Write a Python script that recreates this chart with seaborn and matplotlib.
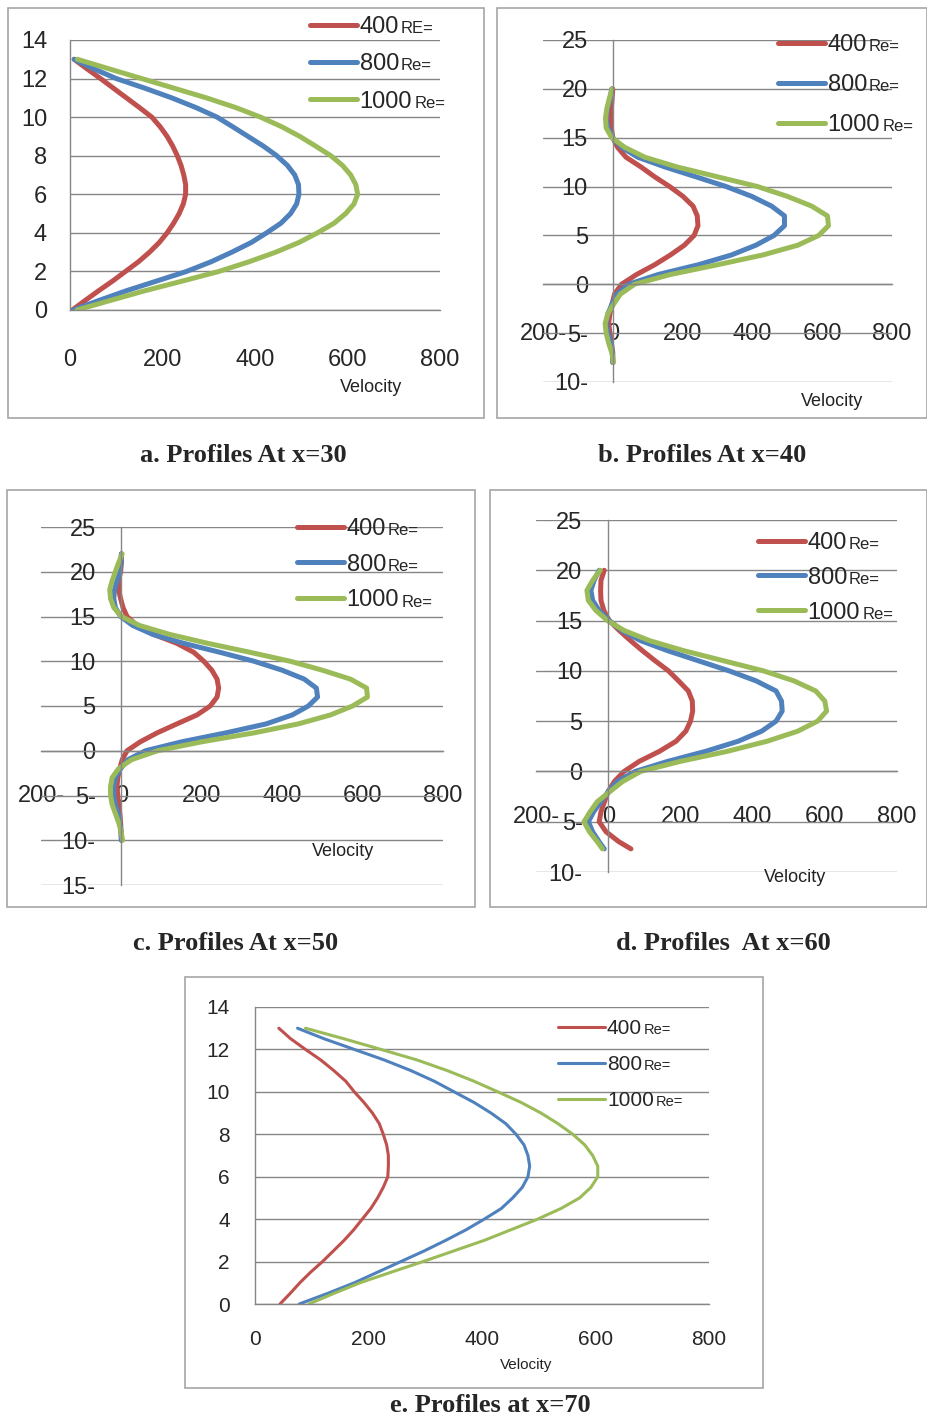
import pandas as pd
import seaborn as sns
import matplotlib.pyplot as plt
from matplotlib.patches import Rectangle

# velocity profiles (velocity at each height y)
Y_A = [i / 2 for i in range(0, 27)]
A_400 = [5, 33, 62, 92, 120, 148, 172, 193, 210, 224, 236, 245, 250, 250, 246, 240, 232,
         222, 210, 195, 177, 150, 122, 94, 66, 37, 9]
A_800 = [7, 63, 122, 187, 252, 305, 350, 392, 425, 456, 477, 490, 495, 494, 486, 470, 447,
         418, 385, 352, 318, 272, 220, 162, 100, 52, 9]
A_1000 = [15, 88, 162, 243, 322, 387, 445, 495, 535, 571, 596, 614, 622, 618, 607, 589, 564,
          531, 497, 458, 412, 358, 295, 225, 155, 85, 16]

Y_B = list(range(-8, 21))
B_400 = [0, 0, -4, -8, -12, -8, -2, 5, 25, 68, 120, 165, 205, 233, 244, 242, 230,
         201, 163, 120, 81, 38, 14, 0, -4, -5, -4, -2, 0]
B_800 = [0, -1, -6, -14, -19, -14, -2, 12, 45, 130, 245, 340, 410, 462, 492, 492, 455,
         398, 325, 238, 150, 72, 26, 0, -14, -19, -15, -8, -3]
B_1000 = [2, -3, -12, -19, -22, -14, 3, 22, 62, 165, 300, 430, 530, 590, 618, 615, 570,
          500, 415, 300, 185, 92, 35, -3, -19, -21, -17, -10, -2]

Y_C = list(range(-10, 23))
C_400 = [0, -1, -2, -4, -7, -9, -11, -9, -4, 2, 14, 47, 89, 138, 188, 221, 238, 242,
         238, 225, 205, 180, 138, 80, 39, 14, 4, -2, -7, -7, -2, 0, 0]
C_800 = [0, -1, -4, -9, -15, -19, -19, -15, -2, 16, 60, 150, 260, 360, 425, 465, 488,
         485, 455, 400, 330, 245, 155, 78, 28, -2, -15, -19, -17, -11, -4, -1, 0]
C_1000 = [3, -1, -7, -15, -23, -27, -27, -23, -7, 25, 90, 200, 330, 440, 520, 575, 612,
          610, 570, 500, 420, 320, 215, 120, 45, 0, -19, -27, -29, -23, -15, -7, 2]

Y_D = [-7.7] + list(range(-7, 21))
D_400 = [63, 30, -6, -25, -20, -10, 0, 17, 44, 86, 142, 188, 215, 228, 234, 233, 222,
         195, 167, 130, 95, 62, 31, 3, -12, -20, -21, -20, -11]
D_800 = [-11, -25, -43, -55, -40, -20, 0, 25, 75, 165, 270, 360, 425, 465, 482, 480,
         465, 410, 335, 250, 165, 90, 38, 3, -25, -43, -48, -39, -25]
D_1000 = [-16, -30, -52, -67, -50, -30, 5, 40, 90, 200, 330, 440, 525, 580, 605, 600,
          575, 515, 430, 320, 210, 115, 45, -2, -34, -55, -59, -43, -22]

Y_E = [i / 2 for i in range(0, 27)]
E_400 = [44, 62, 79, 98, 119, 138, 157, 174, 189, 204, 216, 226, 234, 235, 235, 232, 226,
         219, 207, 192, 175, 160, 139, 116, 89, 63, 42]
E_800 = [78, 128, 175, 216, 257, 298, 336, 372, 404, 434, 454, 471, 481, 484, 481, 474, 460,
         442, 416, 386, 351, 316, 275, 228, 175, 122, 75]
E_1000 = [95, 139, 185, 240, 296, 350, 404, 451, 498, 539, 572, 592, 604, 604, 595, 581, 560,
          534, 504, 469, 428, 386, 339, 286, 222, 157, 89]

RE_NUM = ["400", "800", "1000"]
COLORS = ["#C0504D", "#4F81BD", "#9BBB59"]

XT_POS = [0, 200, 400, 600, 800]
XT_POS_NEG = [-200, 0, 200, 400, 600, 800]
XL_POS = ["0", "200", "400", "600", "800"]
XL_NEG = ["200-", "0", "200", "400", "600", "800"]
YT_A = [0, 2, 4, 6, 8, 10, 12, 14]
YL_A = ["0", "2", "4", "6", "8", "10", "12", "14"]
YT_B = [-10, -5, 0, 5, 10, 15, 20, 25]
YL_B = ["10-", "5-", "0", "5", "10", "15", "20", "25"]
YT_C = [-15, -10, -5, 0, 5, 10, 15, 20, 25]
YL_C = ["15-", "10-", "5-", "0", "5", "10", "15", "20", "25"]

GRID = "#868686"
W, H = 928, 1418

sns.set_style("white")
plt.rcParams["font.family"] = ["Liberation Sans", "DejaVu Sans"]

fig = plt.figure(figsize=(W / 100, H / 100), dpi=100)


def px_box(x0, y0, x1, y1):
    return [x0 / W, 1 - y1 / H, (x1 - x0) / W, (y1 - y0) / H]


def long_df(y, series):
    parts = [pd.DataFrame({"Velocity": v, "y": y, "Re": re}) for re, v in zip(RE_NUM, series)]
    return pd.concat(parts, ignore_index=True)


def panel(p):
    # grey frame round the whole chart
    fx0, fy0, fx1, fy1 = p["frame"]
    fig.add_artist(Rectangle((fx0 / W, 1 - fy1 / H), (fx1 - fx0) / W, (fy1 - fy0) / H,
                             transform=fig.transFigure, fill=False, ec="#a6a6a6", lw=1.2))
    ax = fig.add_axes(px_box(*p["box"]))
    df = long_df(p["y"], p["series"])
    sns.lineplot(data=df, x="Velocity", y="y", hue="Re", palette=COLORS, sort=False,
                 estimator=None, orient="y", lw=p["lw"], legend=False, ax=ax,
                 solid_capstyle="round", solid_joinstyle="round")
    ax.set_xlim(*p["xlim"])
    ax.set_ylim(*p["ylim"])
    ax.set_xlabel("")
    ax.set_ylabel("")
    ax.set_xticks(p["xt"], p["xl"])
    ax.set_yticks(p["yt"], p["yl"])
    ax.yaxis.grid(True, color=GRID, lw=1)
    ax.xaxis.grid(False)
    ax.set_axisbelow(True)
    for s in ["top", "right"]:
        ax.spines[s].set_visible(False)
    for s in ["left", "bottom"]:
        ax.spines[s].set_position(("data", 0))
        ax.spines[s].set_color(GRID)
        ax.spines[s].set_linewidth(1)
    ax.tick_params(axis="x", length=7, width=1, color=GRID, pad=p["xpad"], labelsize=p["fs"])
    ax.tick_params(axis="y", length=p["ylen"], width=1, color=GRID, pad=p["ypad"],
                   labelsize=p["fs"])

    lx, ly = p["leg"]
    leg = ax.legend(handles=ax.lines[:3], labels=RE_NUM, loc="upper left",
                    bbox_to_anchor=(lx / W, 1 - ly / H), bbox_transform=fig.transFigure,
                    frameon=False, borderpad=0, borderaxespad=0, handletextpad=0.1,
                    handlelength=p["hlen"], labelspacing=p["lspace"], fontsize=p["fs"])
    for t, suf in zip(leg.get_texts(), p["suffix"]):
        ax.annotate(suf, xy=(1, 0), xycoords=t, xytext=(1.5, p["sufdy"]),
                    textcoords="offset points", va="baseline", ha="left",
                    fontsize=p["sfs"], zorder=6)

    fig.text(p["vel"][0] / W, 1 - p["vel"][1] / H, "Velocity", ha="center", va="center",
             fontsize=p["vfs"], color="#222222")
    fig.text(p["cap"][0] / W, 1 - p["cap"][1] / H, p["caption"], ha="center", va="center",
             fontsize=19, family="Liberation Serif", weight="bold")


panels = [
    dict(frame=(8, 8, 484, 418), box=(70, 40, 440, 310), y=Y_A, series=[A_400, A_800, A_1000],
         xlim=(0, 800), ylim=(0, 14), xt=XT_POS, xl=XL_POS, yt=YT_A, yl=YL_A,
         lw=3.6, fs=17, xpad=21, ypad=11, ylen=5.5,
         leg=(310, 16), hlen=2.0, lspace=0.65, suffix=["RE=", "Re=", "Re="], sfs=12, sufdy=3.5,
         vel=(371, 388), vfs=13, cap=(243, 455), caption="a. Profiles At x=30"),
    dict(frame=(497, 8, 927, 418), box=(543, 40, 892, 382), y=Y_B, series=[B_400, B_800, B_1000],
         xlim=(-200, 800), ylim=(-10, 25), xt=XT_POS_NEG, xl=XL_NEG, yt=YT_B, yl=YL_B,
         lw=3.6, fs=17, xpad=21, ypad=18, ylen=0,
         leg=(778, 34), hlen=2.0, lspace=0.76, suffix=["Re=", "Re=", "Re="], sfs=12, sufdy=3.5,
         vel=(832, 402), vfs=13, cap=(702, 455), caption="b. Profiles At x=40"),
    dict(frame=(7, 490, 475, 907), box=(41, 527, 443, 885), y=Y_C, series=[C_400, C_800, C_1000],
         xlim=(-200, 800), ylim=(-15, 25), xt=XT_POS_NEG, xl=XL_NEG, yt=YT_C, yl=YL_C,
         lw=3.6, fs=17, xpad=18, ypad=18.5, ylen=0,
         leg=(297, 518), hlen=2.0, lspace=0.58, suffix=["Re=", "Re=", "Re="], sfs=12, sufdy=3.5,
         vel=(343, 852), vfs=13, cap=(236, 943), caption="c. Profiles At x=50"),
    dict(frame=(490, 490, 927, 907), box=(536, 520, 897, 872), y=Y_D, series=[D_400, D_800, D_1000],
         xlim=(-200, 800), ylim=(-10, 25), xt=XT_POS_NEG, xl=XL_NEG, yt=YT_B, yl=YL_B,
         lw=3.6, fs=17, xpad=18, ypad=18.5, ylen=0,
         leg=(758, 532), hlen=2.0, lspace=0.54, suffix=["Re=", "Re=", "Re="], sfs=12, sufdy=3.5,
         vel=(795, 878), vfs=13, cap=(723, 943), caption="d. Profiles  At x=60"),
    dict(frame=(185, 977, 763, 1388), box=(255, 1007, 709, 1304), y=Y_E, series=[E_400, E_800, E_1000],
         xlim=(0, 800), ylim=(0, 14), xt=XT_POS, xl=XL_POS, yt=YT_A, yl=YL_A,
         lw=2.2, fs=15, xpad=11.5, ypad=11.5, ylen=6.5,
         leg=(558, 1019), hlen=2.25, lspace=0.82, suffix=["Re=", "Re=", "Re="], sfs=10.5, sufdy=3,
         vel=(526, 1365), vfs=11, cap=(490, 1405), caption="e. Profiles at x=70"),
]

for p in panels:
    panel(p)

fig.savefig("out.png", dpi=100)
